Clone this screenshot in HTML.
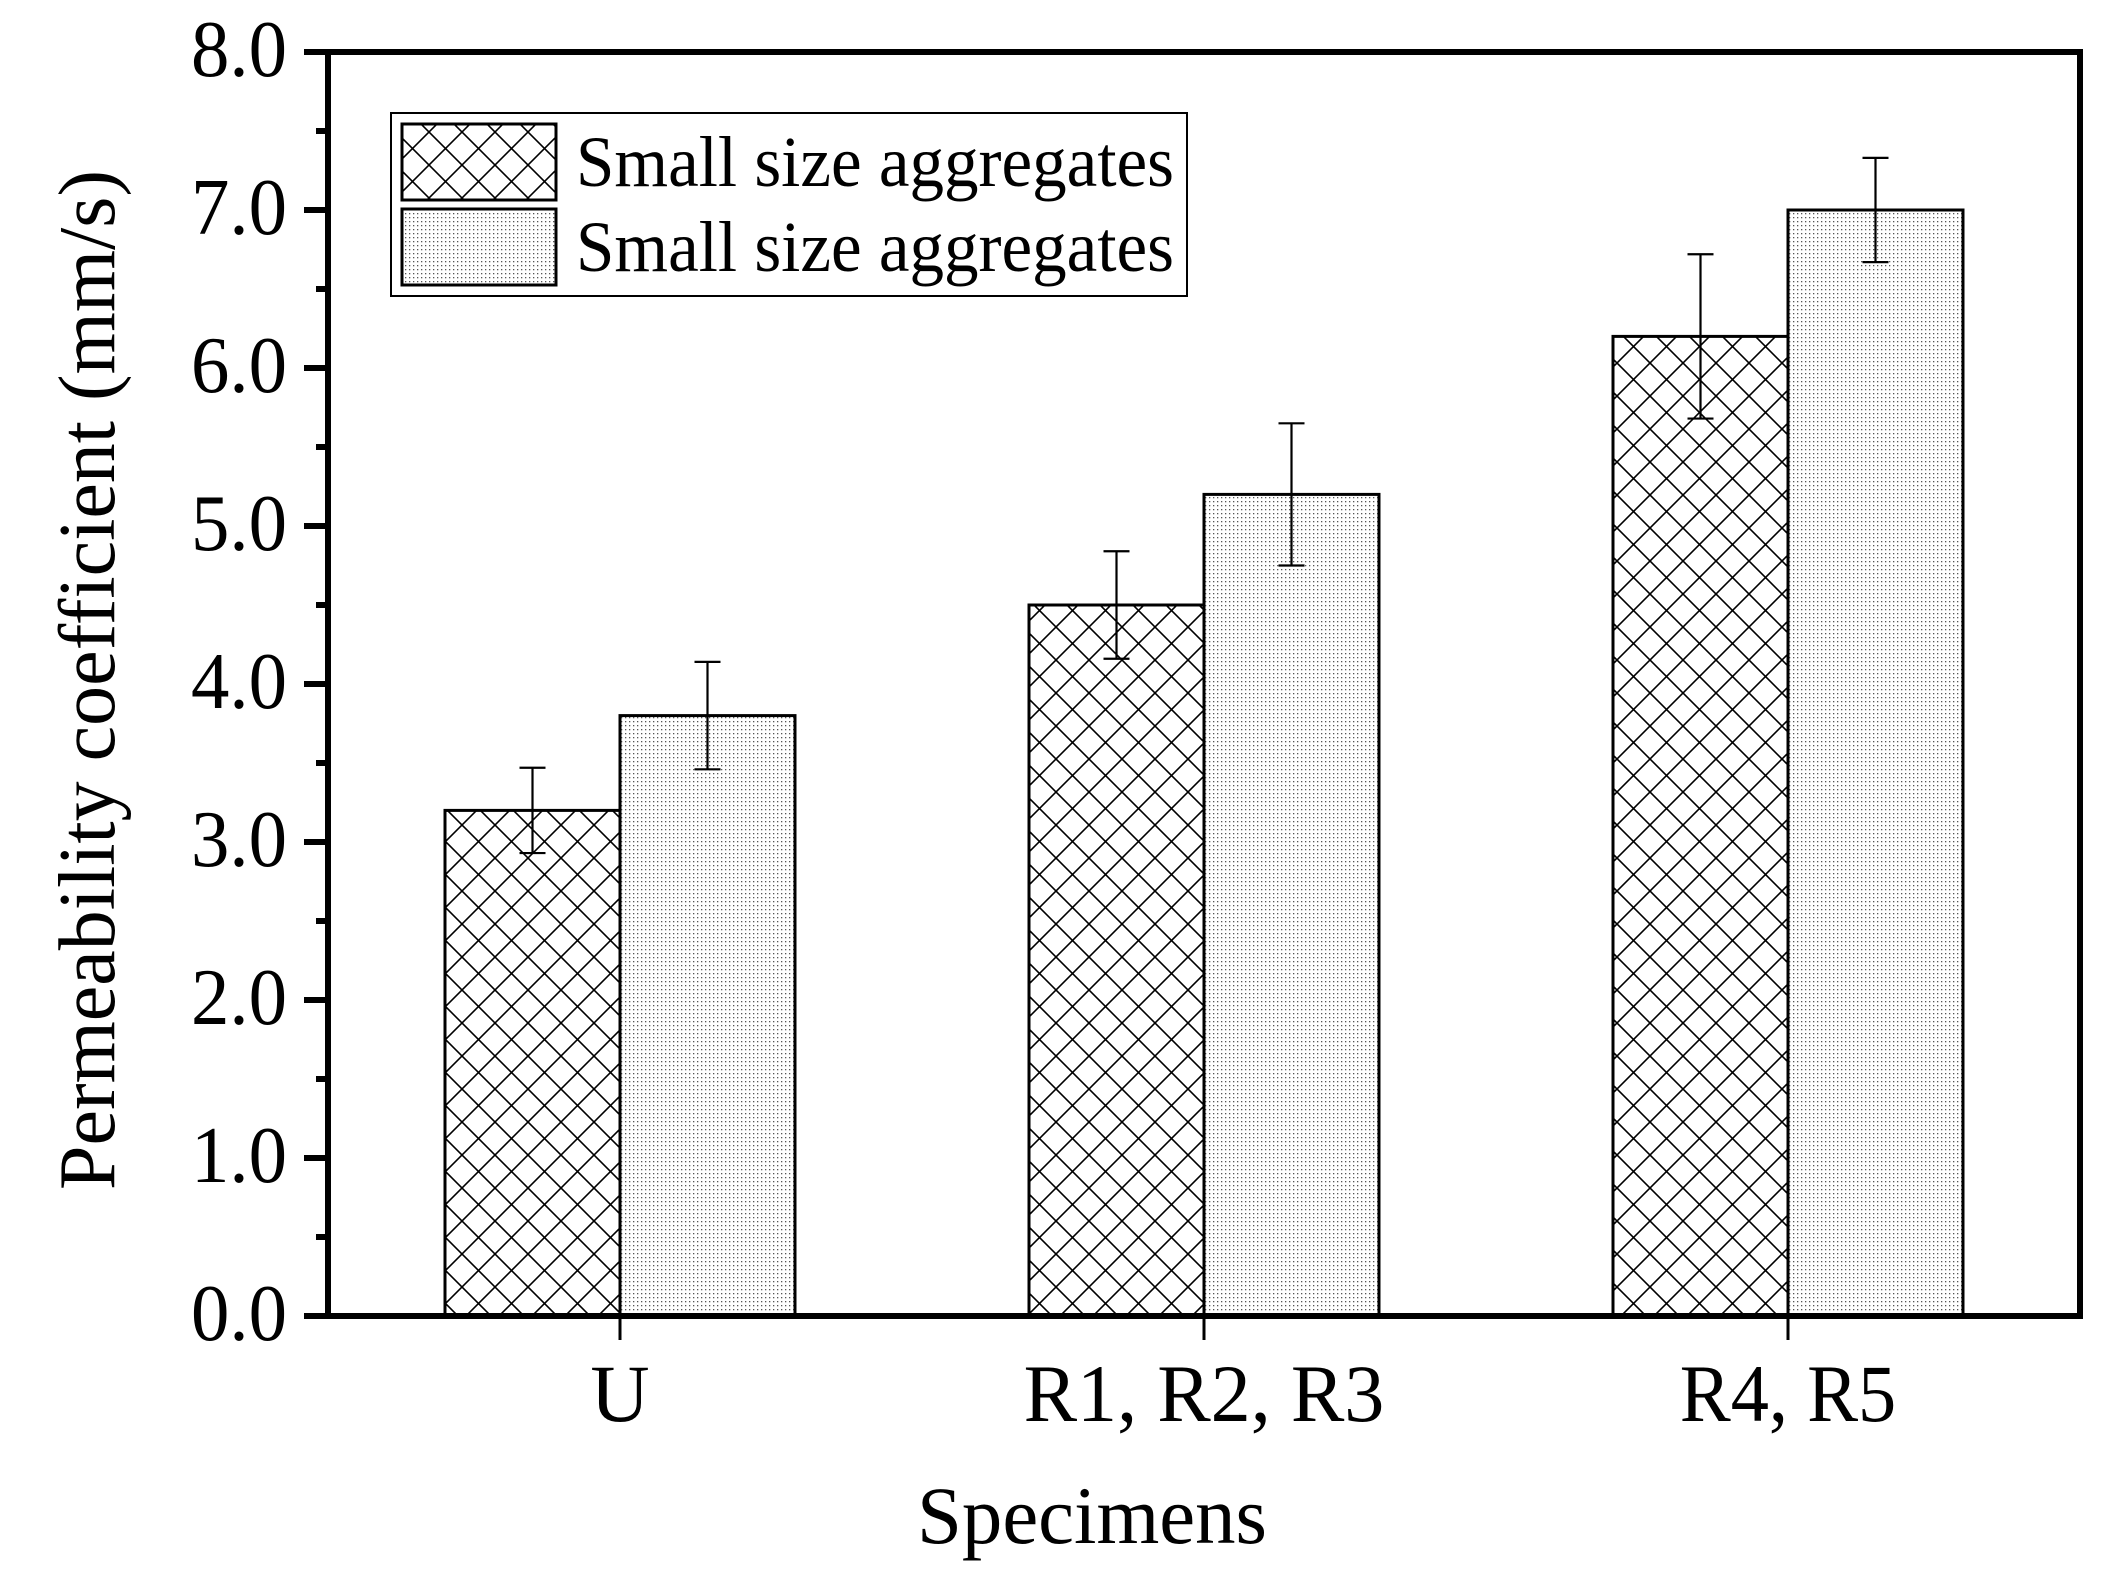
<!DOCTYPE html>
<html><head><meta charset="utf-8"><style>
html,body{margin:0;padding:0;background:#fff;}
svg{display:block;font-family:"Liberation Serif","DejaVu Serif",serif;}
</style></head><body>
<svg id="chart" width="2124" height="1573" viewBox="0 0 2124 1573" xmlns="http://www.w3.org/2000/svg">
<defs>
<pattern id="cross" patternUnits="userSpaceOnUse" width="33" height="33">
<path d="M0,0 L33,33 M33,0 L0,33 M-5,28 L5,38 M28,-5 L38,5 M-5,5 L5,-5 M28,38 L38,28" stroke="#000" stroke-width="1.6" fill="none"/>
</pattern>
<pattern id="dots" patternUnits="userSpaceOnUse" width="4" height="4">
<rect width="4" height="4" fill="#fff"/>
<rect x="1" y="1" width="1.3" height="1.3" fill="#555"/>
</pattern>
</defs>
<g id="plot"></g>
</svg>
<script>
const categories = ["U", "R1, R2, R3", "R4, R5"];
const seriesNames = ["Small size aggregates", "Small size aggregates"];
const crossValues = [3.2, 4.5, 6.2];
const crossErrors = [0.27, 0.34, 0.52];
const dotValues = [3.8, 5.2, 7.0];
const dotErrors = [0.34, 0.45, 0.33];
const yTicks = [0, 1, 2, 3, 4, 5, 6, 7, 8];
const yTickLabels = ["0.0","1.0","2.0","3.0","4.0","5.0","6.0","7.0","8.0"];

const NS = "http://www.w3.org/2000/svg";
const L = 328, R = 2080, T = 52, B = 1316;
const yMin = 0, yMax = 8;
const y = v => B - (v - yMin) / (yMax - yMin) * (B - T);
const step = (R - L) / categories.length;
const xc = i => L + step * (i + 0.5);
const barW = 175;
const g = document.getElementById('plot');
function mk(tag, attrs, parent) {
  const e = document.createElementNS(NS, tag);
  for (const k in attrs) e.setAttribute(k, attrs[k]);
  (parent || g).appendChild(e);
  return e;
}
function fitLen(txt, fs) { return txt.length * fs * 0.44; }

const series = [
  {vals: crossValues, errs: crossErrors, fill: "url(#cross)", off: -1, name: "cross"},
  {vals: dotValues, errs: dotErrors, fill: "url(#dots)", off: 0, name: "dot"}
];
series.forEach(s => {
  s.vals.forEach((v, i) => {
    const x0 = xc(i) + s.off * barW;
    const r = mk('rect', {x: x0, y: y(v), width: barW, height: y(0) - y(v), fill: s.fill, stroke: "#000", "stroke-width": 3});
    
    
  });
});
series.forEach(s => {
  s.vals.forEach((v, i) => {
    const cx = xc(i) + s.off * barW + barW / 2;
    const top = y(v + s.errs[i]), bot = y(v - s.errs[i]);
    const eg = mk('g', {stroke: "#000", "stroke-width": 2.2});
    
    
    mk('line', {x1: cx, x2: cx, y1: top, y2: bot}, eg);
    mk('line', {x1: cx - 13, x2: cx + 13, y1: top, y2: top}, eg);
    mk('line', {x1: cx - 13, x2: cx + 13, y1: bot, y2: bot}, eg);
  });
});

const frame = mk('rect', {x: L, y: T, width: R - L, height: B - T, fill: "none", stroke: "#000", "stroke-width": 6});



yTicks.forEach((t, i) => {
  const yy = y(t);
  const tk = mk('line', {x1: L - 24, x2: L, y1: yy, y2: yy, stroke: "#000", "stroke-width": 6});
  
  
  const lb = mk('text', {x: 287, y: yy + 24, "text-anchor": "end", "font-size": 80, textLength: 96, lengthAdjust: "spacingAndGlyphs"});
  lb.textContent = yTickLabels[i];
  
  
  if (i < yTicks.length - 1) {
    const ym = y(t + 0.5);
    const mt = mk('line', {x1: L - 12, x2: L, y1: ym, y2: ym, stroke: "#000", "stroke-width": 6});
    
    
  }
});
categories.forEach((c, i) => {
  const xx = xc(i);
  const tk = mk('line', {x1: xx, x2: xx, y1: B, y2: B + 24, stroke: "#000", "stroke-width": 3});
  
  
  const lb = mk('text', {x: xx, y: 1421, "text-anchor": "middle", "font-size": 82});
  if (c.length > 1) { lb.setAttribute('textLength', fitLen(c, 82)); lb.setAttribute('lengthAdjust', 'spacingAndGlyphs'); }
  lb.textContent = c;
  
  
});
const xt = mk('text', {x: 1092, y: 1543, "text-anchor": "middle", "font-size": 82, textLength: 350, lengthAdjust: "spacingAndGlyphs"});
xt.textContent = "Specimens";


const yt = mk('text', {x: 0, y: 0, "text-anchor": "middle", "font-size": 80, textLength: 1020, lengthAdjust: "spacingAndGlyphs", transform: "translate(114,680) rotate(-90)"});
yt.textContent = "Permeability coefficient (mm/s)";



const lg = mk('g', {});


mk('rect', {x: 391, y: 113, width: 796, height: 183, fill: "#fff", stroke: "#000", "stroke-width": 2}, lg);
const fills = ["url(#cross)", "url(#dots)"];
seriesNames.forEach((n, i) => {
  const yy = 124 + i * 85;
  const sw = mk('rect', {x: 402, y: yy, width: 154, height: 76, fill: fills[i], stroke: "#000", "stroke-width": 3}, lg);
  
  
  const tx = mk('text', {x: 576, y: yy + 62, "font-size": 72, textLength: 598, lengthAdjust: "spacingAndGlyphs"}, lg);
  tx.textContent = n;
  
  
});
</script>
</body></html>
